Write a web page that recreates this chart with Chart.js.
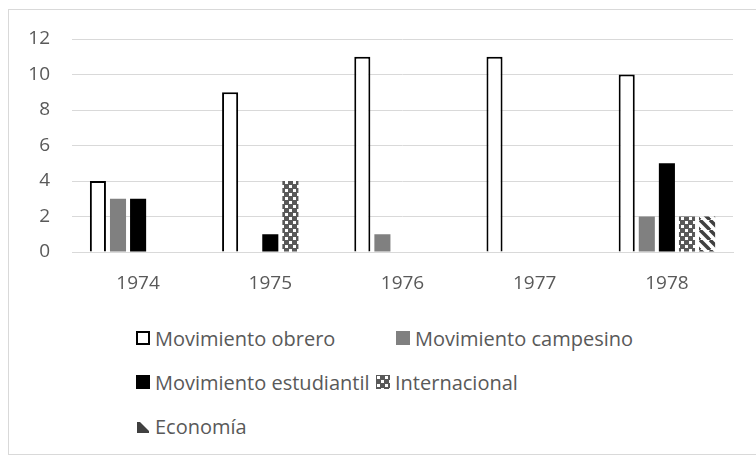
<!DOCTYPE html>
<html>
<head>
<meta charset="utf-8">
<script src="https://cdn.jsdelivr.net/npm/chart.js@4/dist/chart.umd.min.js"></script>
<style>
  body { margin: 0; background: #fff; font-family: "Open Sans", sans-serif; }
  #frame { position: absolute; left: 8px; top: 9px; width: 760px; height: 446px; border: 1px solid #d9d9d9; box-sizing: border-box; }
  #wrap { position: absolute; left: 0; top: 0; width: 756px; height: 310px; }
  #legend { position: absolute; left: 136px; top: 326px; color: #595959; font-size: 20px; }
  .row { position: relative; height: 44px; }
  .item { position: absolute; top: 0; display: flex; align-items: center; height: 24px; white-space: nowrap; }
  .item canvas { margin-right: 5px; }
</style>
</head>
<body>
<div id="frame"></div>
<div id="wrap"><canvas id="chart"></canvas></div>
<div id="legend"></div>
<script>
const years = ["1974", "1975", "1976", "1977", "1978"];
const obrero = [4, 9, 11, 11, 10];
const campesino = [3, 0, 1, 0, 2];
const estudiantil = [3, 1, 0, 0, 5];
const internacional = [0, 4, 0, 0, 2];
const economia = [0, 0, 0, 0, 2];

// patrones de relleno
function dotPattern() {
    const c = document.createElement("canvas");
    c.width = 8; c.height = 8;
    const g = c.getContext("2d");
    g.fillStyle = "#595959";
    g.fillRect(0, 0, 8, 8);
    g.fillStyle = "#ffffff";
    g.fillRect(1, 1, 3, 3);
    g.fillRect(5, 5, 3, 3);
    return g.createPattern(c, "repeat");
}

function stripePattern() {
    const c = document.createElement("canvas");
    c.width = 10; c.height = 10;
    const g = c.getContext("2d");
    g.fillStyle = "#ffffff";
    g.fillRect(0, 0, 10, 10);
    g.strokeStyle = "#404040";
    g.lineWidth = 3.5;
    for (const o of [-10, 0, 10]) {
        g.beginPath();
        g.moveTo(o, 0);
        g.lineTo(o + 10, 10);
        g.stroke();
    }
    return g.createPattern(c, "repeat");
}

const dots = dotPattern();
const stripes = stripePattern();

const font = { family: "'Open Sans', sans-serif", size: 19 };

const ctx = document.getElementById("chart").getContext("2d");
const chart = new Chart(ctx, {
    type: 'bar',
    data: {
        labels: years,
        datasets: [
            { label: "Movimiento obrero", data: obrero, backgroundColor: "#ffffff", borderColor: "#000000", borderWidth: 2 },
            { label: "Movimiento campesino", data: campesino, backgroundColor: "#808080" },
            { label: "Movimiento estudiantil", data: estudiantil, backgroundColor: "#000000" },
            { label: "Internacional", data: internacional, backgroundColor: dots },
            { label: "Economía", data: economia, backgroundColor: stripes }
        ]
    },
    options: {
        responsive: true,
        maintainAspectRatio: false,
        animation: false,
        categoryPercentage: 0.76,
        barPercentage: 0.8,
        layout: { padding: { top: 39, right: 23, left: 0, bottom: 0 } },
        plugins: { legend: { display: false }, tooltip: { enabled: false } },
        scales: {
            x: {
                grid: { display: false },
                border: { color: "#d9d9d9" },
                ticks: { color: "#595959", font, padding: 12 },
                afterFit: s => { s.height = 58; }
            },
            y: {
                min: 0, max: 12,
                grid: { color: "#d9d9d9", drawTicks: false },
                border: { display: false },
                ticks: { stepSize: 2, color: "#595959", font, padding: 22 },
                afterFit: s => { s.width = 72; }
            }
        }
    }
});

// leyenda en filas, como la de Excel
function legendIcon(ds) {
    const c = document.createElement("canvas");
    c.width = 14; c.height = 14;
    const g = c.getContext("2d");
    if (ds.label === "Economía") {
        g.fillStyle = "#404040";
        g.beginPath();
        g.moveTo(1, 3); g.lineTo(4, 3); g.lineTo(13, 12); g.lineTo(13, 14); g.lineTo(1, 14);
        g.closePath();
        g.fill();
        return c;
    }
    g.fillStyle = ds.backgroundColor;
    g.fillRect(0, 0, 14, 14);
    if (ds.borderWidth) {
        g.strokeStyle = ds.borderColor;
        g.lineWidth = 2;
        g.strokeRect(1, 1, 12, 12);
    }
    return c;
}

const legend = document.getElementById("legend");
const offsets = [0, 260, 0, 240, 0];
chart.data.datasets.forEach((ds, i) => {
    const rowIdx = Math.floor(i / 2);
    let row = legend.children[rowIdx];
    if (!row) {
        row = document.createElement("div");
        row.className = "row";
        legend.appendChild(row);
    }
    const item = document.createElement("div");
    item.className = "item";
    item.style.left = offsets[i] + "px";
    item.appendChild(legendIcon(ds));
    item.appendChild(document.createTextNode(ds.label));
    row.appendChild(item);
});
</script>
</body>
</html>
